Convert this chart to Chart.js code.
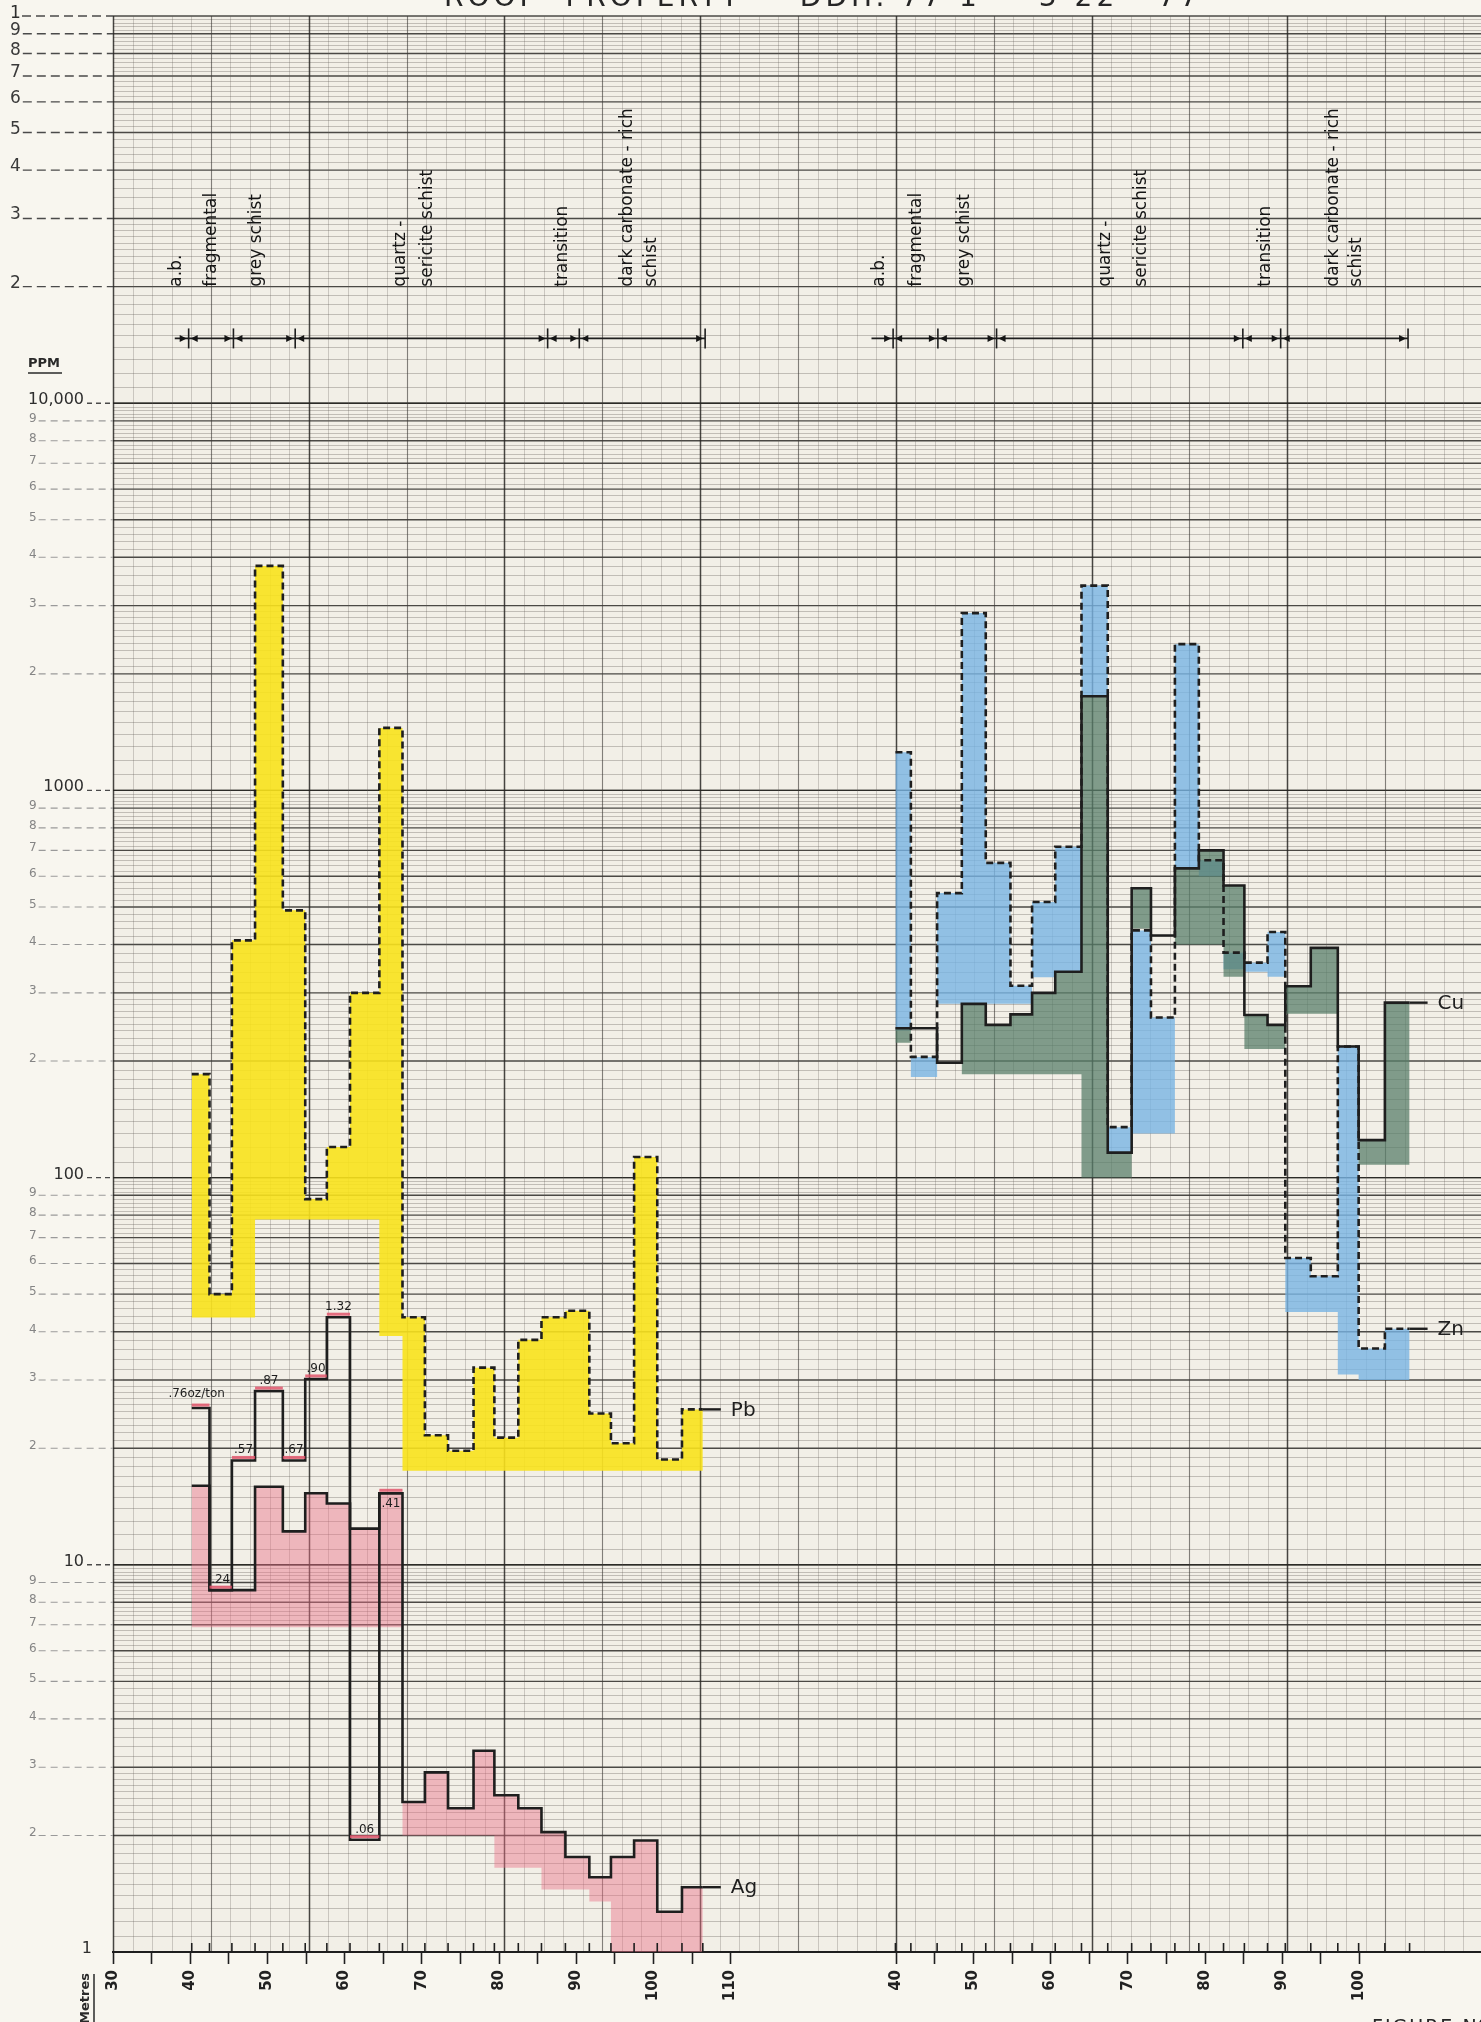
<!DOCTYPE html>
<html>
<head>
<meta charset="utf-8">
<title>Roof Property - DDH geochemistry</title>
<script src="https://cdn.jsdelivr.net/npm/chart.js@4.4.1/dist/chart.umd.min.js"></script>
<style>
  html, body { margin: 0; padding: 0; background: #f7f4ed; }
  #wrap { width: 1481px; height: 2022px; overflow: hidden; }
</style>
</head>
<body>
<div id="wrap"><canvas id="plot" width="1481" height="2022"></canvas></div>
<script>
(function () {
  'use strict';

  //---------------- data ----------------
  // sample boundaries, metres down the hole
  const leftDepths = [40.2, 42.5, 45.4, 48.4, 52.0, 54.9, 57.7, 60.7, 64.5, 67.5, 70.4, 73.4, 76.7, 79.4, 82.5, 85.5, 88.6, 91.7, 94.5, 97.5, 100.5, 103.7, 106.4];
  const rightDepths = [39.9, 41.9, 45.3, 48.5, 51.6, 54.8, 57.6, 60.6, 64.0, 67.4, 70.5, 73.0, 76.1, 79.2, 82.4, 85.1, 88.1, 90.4, 93.7, 97.2, 99.9, 103.3, 106.5];

  // ppm, one value per sample interval
  const pbPpm = [185, 50, 410, 3800, 490, 88, 120, 300, 1450, 43.6, 21.6, 19.7, 32.3, 21.3, 38.1, 43.6, 45.3, 24.6, 20.6, 113, 18.7, 25.2];
  const agPpm = [16.0, 8.6, 8.6, 15.9, 12.2, 15.3, 14.4, 12.4, 15.3, 2.44, 2.91, 2.35, 3.31, 2.54, 2.35, 2.04, 1.76, 1.56, 1.76, 1.94, 1.27, 1.47];
  const cuPpm = [243, 243, 198, 281, 248, 264, 300, 340, 1750, 116, 559, 422, 629, 700, 568, 263, 248, 312, 392, 218, 125, 283];
  const znPpm = [1255, 205, 543, 2870, 650, 313, 515, 715, 3380, 135, 435, 259, 2386, 660, 381, 359, 431, 62, 55.6, 218, 36.2, 40.7];

  // silver assays (oz/ton) plotted at their ppm equivalent over the first 9 samples
  const agAssayPpm = [25.4, 8.6, 18.6, 28.1, 18.6, 30.2, 43.6, 1.95, 15.3];
  const agAssayLabels = ['.76oz/ton', '.24', '.57', '.87', '.67', '.90', '1.32', '.06', '.41'];

  // lower edge of the hand colouring under each line
  const pbShadeFloor = [43.5, 43.5, 43.5, 78, 78, 78, 78, 78, 39, 17.5, 17.5, 17.5, 17.5, 17.5, 17.5, 17.5, 17.5, 17.5, 17.5, 17.5, 17.5, 17.5];
  const agShadeFloor = [6.9, 6.9, 6.9, 6.9, 6.9, 6.9, 6.9, 6.9, 6.9, 2.0, 2.0, 2.0, 2.0, 1.65, 1.65, 1.45, 1.45, 1.35, 1.0, 1.0, 1.0, 1.0];
  const cuShadeFloor = [223, 243, 198, 185, 185, 185, 185, 185, 100, 100, 440, 422, 400, 400, 330, 215, 215, 265, 265, 218, 108, 108];
  const znShadeFloor = [240, 182, 281, 281, 281, 281, 329, 340, 1750, 116, 130, 130, 629, 600, 345, 340, 330, 45, 45, 31, 30, 30];

  // axis labelling
  const leftTickMetres = [30, 35, 40, 45, 50, 55, 60, 65, 70, 75, 80, 85, 90, 95, 100, 105, 110];
  const rightTickMetres = [40, 45, 50, 55, 60, 65, 70, 75, 80, 85, 90, 95, 100];
  const yDecadeValues = [1, 10, 100, 1000, 10000, 100000];
  const yDecadeLabels = ['1', '10', '100', '1000', '10,000', '1'];
  const yDigitLabels = ['2', '3', '4', '5', '6', '7', '8', '9'];

  // rock units logged along the hole
  const lithNames = ['a.b.', 'fragmental', 'grey schist', 'quartz -', 'sericite schist', 'transition', 'dark carbonate - rich', 'schist'];
  const lithLeftAt = [38.3, 42.8, 48.6, 67.3, 70.7, 88.2, 96.7, 99.7];
  const lithRightAt = [37.8, 42.6, 48.8, 67.1, 71.8, 87.8, 96.6, 99.6];
  const lithLeftBounds = [39.8, 45.6, 53.6, 86.3, 90.4, 106.7];
  const lithRightBounds = [39.6, 45.4, 53.0, 84.9, 89.8, 106.3];

  //---------------- layout constants ----------------
  const RIGHT_SHIFT = 91.45;   // the Cu/Zn panel is drawn further along the same metre axis
  const X_MIN = 30, X_MAX = 207.2;
  const PAPER_STEP = 2.535;    // one ruling of the graph paper in metres
  const LITH_LINE_PPM = 14700;
  const LITH_TEXT_PPM = 20000;
  const FONT = '"DejaVu Sans", "Liberation Sans", sans-serif';
  const INK = '#1e1e1e';

  // step line: value i holds from depth i to depth i+1
  function steps(depths, values, shift) {
    const pts = values.map((v, i) => ({ x: depths[i] + shift, y: v }));
    pts.push({ x: depths[values.length] + shift, y: values[values.length - 1] });
    return pts;
  }

  function lineSet(label, pts, opts) {
    return Object.assign({
      label: label, data: pts, stepped: true, borderColor: INK, borderWidth: 2.6,
      pointRadius: 0, fill: false, backgroundColor: 'transparent'
    }, opts || {});
  }

  const datasets = [
    lineSet('Ag assay', steps(leftDepths, agAssayPpm, 0)),
    lineSet('Ag', steps(leftDepths, agPpm, 0), { fill: { target: 5 }, backgroundColor: 'rgba(232,112,136,0.45)' }),
    lineSet('Pb', steps(leftDepths, pbPpm, 0), { borderDash: [7, 4], fill: { target: 6 }, backgroundColor: 'rgba(248,226,28,0.9)' }),
    lineSet('Cu', steps(rightDepths, cuPpm, RIGHT_SHIFT), { fill: { target: 7 }, backgroundColor: 'rgba(88,125,105,0.74)' }),
    lineSet('Zn', steps(rightDepths, znPpm, RIGHT_SHIFT), { borderDash: [7, 4], fill: { target: 8 }, backgroundColor: 'rgba(120,180,228,0.8)' }),
    // shading floors, no stroke
    lineSet('Ag floor', steps(leftDepths, agShadeFloor, 0), { borderWidth: 0, borderColor: 'transparent' }),
    lineSet('Pb floor', steps(leftDepths, pbShadeFloor, 0), { borderWidth: 0, borderColor: 'transparent' }),
    lineSet('Cu floor', steps(rightDepths, cuShadeFloor, RIGHT_SHIFT), { borderWidth: 0, borderColor: 'transparent' }),
    lineSet('Zn floor', steps(rightDepths, znShadeFloor, RIGHT_SHIFT), { borderWidth: 0, borderColor: 'transparent' })
  ];

  // x ticks: left panel then right panel on the same axis
  const xTickValues = leftTickMetres.concat(rightTickMetres.map(m => m + RIGHT_SHIFT));
  const xTickLabels = leftTickMetres.concat(rightTickMetres).map(m => (m % 10 === 0 ? String(m) : ''));

  function hline(ctx, x0, x1, yy) { ctx.beginPath(); ctx.moveTo(x0, yy); ctx.lineTo(x1, yy); ctx.stroke(); }
  function vline(ctx, xx, y0, y1) { ctx.beginPath(); ctx.moveTo(xx, y0); ctx.lineTo(xx, y1); ctx.stroke(); }

  //---------------- graph paper ----------------
  const paperPlugin = {
    id: 'paper',
    beforeDraw(chart) {
      const { ctx, chartArea: a } = chart;
      const x = chart.scales.x, y = chart.scales.y;
      ctx.save();
      ctx.fillStyle = '#f8f6ef';
      ctx.fillRect(0, 0, chart.width, chart.height);
      ctx.fillStyle = '#f2efe7';
      ctx.fillRect(a.left, a.top, a.right - a.left, a.bottom - a.top);

      // log rulings: fine between the figures, heavy on each figure
      for (let d = 1; d < 100000; d *= 10) {
        ctx.strokeStyle = 'rgba(95,90,84,0.42)';
        ctx.lineWidth = 0.8;
        for (let m = 1.1; m < 9.95; m += (m < 2.95 ? 0.1 : 0.2)) {
          const r = Math.round(m * 10) / 10;
          if (Math.abs(r - Math.round(r)) < 0.01) continue;
          hline(ctx, a.left, a.right, Math.round(y.getPixelForValue(r * d)) + 0.5);
        }
        ctx.strokeStyle = 'rgba(38,36,33,0.82)';
        ctx.lineWidth = 1.4;
        for (let k = 1; k <= 10; k++) {
          hline(ctx, a.left, a.right, y.getPixelForValue(k * d));
        }
      }

      // vertical rulings of the paper
      for (let k = 0; ; k++) {
        const v = X_MIN + k * PAPER_STEP;
        if (v > X_MAX + 0.01) break;
        const px = Math.round(x.getPixelForValue(v)) + 0.5;
        if (k % 10 === 0) { ctx.strokeStyle = 'rgba(40,38,35,0.85)'; ctx.lineWidth = 1.5; }
        else if (k % 5 === 0) { ctx.strokeStyle = 'rgba(60,57,53,0.62)'; ctx.lineWidth = 1.1; }
        else { ctx.strokeStyle = 'rgba(95,90,84,0.34)'; ctx.lineWidth = 0.8; }
        vline(ctx, px, a.top, a.bottom);
      }
      ctx.restore();
    }
  };

  //---------------- assay labels drawn over the lines ----------------
  const assayPlugin = {
    id: 'assays',
    afterDatasetsDraw(chart) {
      const { ctx } = chart;
      const x = chart.scales.x, y = chart.scales.y;
      ctx.save();
      ctx.lineCap = 'butt';
      agAssayPpm.forEach((v, i) => {
        const x0 = x.getPixelForValue(leftDepths[i]);
        const x1 = x.getPixelForValue(leftDepths[i + 1]);
        const py = y.getPixelForValue(v);
        ctx.strokeStyle = 'rgba(226,86,108,0.85)';
        ctx.lineWidth = 3;
        ctx.setLineDash([]);
        hline(ctx, x0, x1, py - 3);
        ctx.fillStyle = INK;
        ctx.font = '12px ' + FONT;
        ctx.textAlign = 'center';
        const below = i === agAssayPpm.length - 1;
        ctx.textBaseline = below ? 'top' : 'alphabetic';
        ctx.fillText(agAssayLabels[i], (x0 + x1) / 2 + (i === 0 ? -4 : 0), below ? py + 5 : py - (i === 0 ? 11 : 7));
      });
      ctx.restore();
    },

    afterDraw(chart) {
      const { ctx, chartArea: a } = chart;
      const x = chart.scales.x, y = chart.scales.y;
      ctx.save();
      ctx.setLineDash([]);

      // sample ticks standing on the metre axis
      ctx.strokeStyle = INK;
      ctx.lineWidth = 1.6;
      leftDepths.forEach(d => vline(ctx, x.getPixelForValue(d), a.bottom, a.bottom - 9));
      rightDepths.forEach(d => vline(ctx, x.getPixelForValue(d + RIGHT_SHIFT), a.bottom, a.bottom - 9));

      // element names at the end of each trace
      const tags = [
        ['Pb', leftDepths, pbPpm, 0],
        ['Ag', leftDepths, agPpm, 0],
        ['Cu', rightDepths, cuPpm, RIGHT_SHIFT],
        ['Zn', rightDepths, znPpm, RIGHT_SHIFT]
      ];
      ctx.font = '20px ' + FONT;
      ctx.textAlign = 'left';
      ctx.textBaseline = 'middle';
      ctx.fillStyle = INK;
      ctx.lineWidth = 2.4;
      tags.forEach(t => {
        const d = t[1], v = t[2];
        const px = x.getPixelForValue(d[d.length - 1] + t[3]);
        const py = y.getPixelForValue(v[v.length - 1]);
        hline(ctx, px, px + 18, py);
        ctx.fillText(t[0], px + 28, py + 1);
      });

      // rock unit strip
      drawLith(ctx, x, y, lithLeftBounds, 38.0, lithLeftAt, 0);
      drawLith(ctx, x, y, lithRightBounds, 36.8, lithRightAt, RIGHT_SHIFT);

      // ppm scale written down the left margin
      drawYLabels(ctx, a, y);

      ctx.fillStyle = '#2a2a2a';
      ctx.font = 'bold 13px ' + FONT;
      ctx.textAlign = 'left';
      ctx.textBaseline = 'alphabetic';
      ctx.fillText('PPM', 28, 367);
      ctx.strokeStyle = '#2a2a2a';
      ctx.lineWidth = 1.5;
      hline(ctx, 28, 62, 373);

      // "Metres" stood on end under the axis
      ctx.save();
      ctx.translate(86, 2024);
      ctx.rotate(-Math.PI / 2);
      ctx.font = 'bold 13px ' + FONT;
      ctx.textBaseline = 'middle';
      ctx.fillText('Metres', 0, 0);
      ctx.restore();
      vline(ctx, 94, 2022, 1974);

      // title and figure number, both cut by the edge of the scan
      ctx.fillStyle = '#262626';
      ctx.font = '28px ' + FONT;
      ctx.textAlign = 'left';
      ctx.textBaseline = 'alphabetic';
      if ('letterSpacing' in ctx) ctx.letterSpacing = '4px';
      ctx.fillText('ROOF  PROPERTY — DDH. 77-1 — 3-22 - 77', 444, 6);
      ctx.font = '19px ' + FONT;
      if ('letterSpacing' in ctx) ctx.letterSpacing = '2px';
      ctx.fillText('FIGURE Nº', 1372, 2033);
      if ('letterSpacing' in ctx) ctx.letterSpacing = '0px';
      ctx.restore();
    }
  };

  function arrow(ctx, tip, yy, dir) {
    ctx.beginPath();
    ctx.moveTo(tip, yy);
    ctx.lineTo(tip - dir * 7, yy - 3.5);
    ctx.lineTo(tip - dir * 7, yy + 3.5);
    ctx.closePath();
    ctx.fill();
  }

  function drawLith(ctx, x, y, bounds, start, labelsAt, shift) {
    const ly = y.getPixelForValue(LITH_LINE_PPM);
    const ty = y.getPixelForValue(LITH_TEXT_PPM);
    ctx.strokeStyle = INK;
    ctx.fillStyle = '#151515';
    ctx.lineWidth = 1.8;
    hline(ctx, x.getPixelForValue(start + shift), x.getPixelForValue(bounds[bounds.length - 1] + shift), ly);
    bounds.forEach((b, i) => {
      const bx = x.getPixelForValue(b + shift);
      ctx.lineWidth = 1.6;
      vline(ctx, bx, ly - 10, ly + 10);
      arrow(ctx, bx - 2, ly, 1);
      if (i < bounds.length - 1) arrow(ctx, bx + 2, ly, -1);
    });
    ctx.font = '17px ' + FONT;
    ctx.textAlign = 'left';
    ctx.textBaseline = 'middle';
    lithNames.forEach((name, i) => {
      ctx.save();
      ctx.translate(x.getPixelForValue(labelsAt[i] + shift), ty);
      ctx.rotate(-Math.PI / 2);
      ctx.fillText(name, 0, 0);
      ctx.restore();
    });
  }

  function drawYLabels(ctx, a, y) {
    ctx.textBaseline = 'alphabetic';
    const topIdx = yDecadeValues.length - 1;
    // figures 2..9 inside each cycle
    for (let i = 0; i < topIdx; i++) {
      const big = i === topIdx - 1;
      yDigitLabels.forEach((lab, k) => {
        const py = y.getPixelForValue((k + 2) * yDecadeValues[i]);
        ctx.font = (big ? '17px ' : '12px ') + FONT;
        ctx.fillStyle = big ? '#3a3a3a' : '#858585';
        ctx.textAlign = 'left';
        const x0 = big ? 10 : 29;
        ctx.fillText(lab, x0, py + 1);
        const w = ctx.measureText(lab).width;
        ctx.strokeStyle = big ? '#4a4a4a' : '#9a9a9a';
        ctx.lineWidth = big ? 1.4 : 1.1;
        ctx.setLineDash(big ? [9, 5] : [7, 5]);
        hline(ctx, x0 + w + 2, a.left, py);
      });
    }
    // cycle figures 1, 10, 100 ...
    yDecadeValues.forEach((v, i) => {
      const py = y.getPixelForValue(v);
      const top = i === topIdx;
      ctx.fillStyle = '#2e2e2e';
      ctx.font = (top ? '17px ' : '16px ') + FONT;
      ctx.strokeStyle = '#4a4a4a';
      ctx.lineWidth = 1.4;
      if (top) {
        ctx.textAlign = 'left';
        ctx.fillText(yDecadeLabels[i], 10, py + 2);
        ctx.setLineDash([9, 5]);
        hline(ctx, 22, a.left, py);
      } else {
        ctx.textAlign = 'right';
        ctx.fillText(yDecadeLabels[i], i === 0 ? 92 : 84, py + 1);
        ctx.setLineDash([5, 4]);
        if (i > 0) hline(ctx, 87, a.left, py);
      }
    });
    ctx.setLineDash([]);
  }

  //---------------- the chart ----------------
  new Chart(document.getElementById('plot'), {
    type: 'line',
    data: { datasets: datasets },
    options: {
      responsive: false,
      animation: false,
      devicePixelRatio: 1,
      events: [],
      layout: { padding: { left: 113, top: 16, right: 0, bottom: 0 } },
      plugins: {
        legend: { display: false },
        tooltip: { enabled: false },
        filler: { drawTime: 'beforeDatasetsDraw' }
      },
      scales: {
        x: {
          type: 'linear',
          position: 'bottom',
          min: X_MIN,
          max: X_MAX,
          afterBuildTicks: scale => { scale.ticks = xTickValues.map(v => ({ value: v })); },
          afterFit: scale => { scale.height = 70; },
          ticks: {
            autoSkip: false,
            minRotation: 90,
            maxRotation: 90,
            padding: 6,
            color: '#222',
            font: { family: FONT, size: 15, weight: 'bold' },
            callback: (value, index) => xTickLabels[index]
          },
          grid: { drawOnChartArea: false, drawTicks: true, tickLength: 12, tickColor: INK, tickWidth: 1.6 },
          border: { display: true, color: INK, width: 2 }
        },
        y: {
          type: 'logarithmic',
          min: 1,
          max: 100000,
          display: false
        }
      }
    },
    plugins: [paperPlugin, assayPlugin]
  });
})();
</script>
</body>
</html>
